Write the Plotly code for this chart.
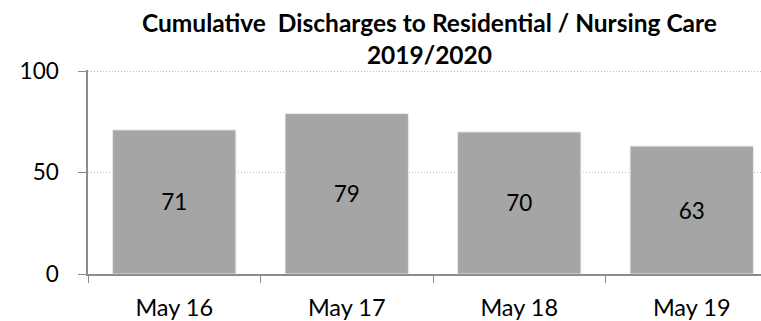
import plotly.graph_objects as go

categories = ["May 16", "May 17", "May 18", "May 19"]
discharges = [71, 79, 70, 63]
y_ticks = [0, 50, 100]
title_lines = ["Cumulative  Discharges to Residential / Nursing Care", "2019/2020"]

FONT = "Lato"
W, H = 761, 321
M_L, M_R, M_T, M_B = 88, 0, 70, 45
plot_h = H - M_T - M_B

fig = go.Figure(
    go.Bar(
        x=categories,
        y=discharges,
        text=[str(v) for v in discharges],
        textposition="inside",
        insidetextanchor="middle",
        textfont=dict(family=FONT, size=22.5, color="#000000"),
        marker=dict(color="#A5A5A5", line=dict(color="#E8E8E8", width=1)),
        width=0.715,
        hoverinfo="skip",
    )
)

# two-line bold heading, centred over the chart
fig.add_annotation(
    text="<b>" + "<br>".join(title_lines) + "</b>",
    xref="paper",
    yref="paper",
    x=(429 - M_L) / (W - M_L - M_R),
    y=1 + (M_T - 38.5) / plot_h,
    xanchor="center",
    yanchor="middle",
    align="center",
    showarrow=False,
    font=dict(family=FONT, size=24.5, color="#000000"),
)

fig.update_layout(
    width=W,
    height=H,
    margin=dict(l=M_L, r=M_R, t=M_T, b=M_B),
    paper_bgcolor="white",
    plot_bgcolor="white",
    showlegend=False,
    xaxis=dict(
        type="category",
        range=[-0.5, -0.5 + (W - M_L) / 172.5],
        showline=True,
        linecolor="#8C8C8C",
        linewidth=1.5,
        ticks="outside",
        tickson="boundaries",
        ticklen=7,
        tickcolor="#8C8C8C",
        ticklabelstandoff=12,
        tickfont=dict(family=FONT, size=23.5, color="#000000"),
        showgrid=False,
    ),
    yaxis=dict(
        range=[0, 100.5],
        tickvals=y_ticks,
        showline=True,
        linecolor="#8C8C8C",
        linewidth=1.5,
        ticks="outside",
        ticklen=8,
        tickcolor="#8C8C8C",
        ticklabelstandoff=15,
        tickfont=dict(family=FONT, size=22.5, color="#000000"),
        showgrid=True,
        gridcolor="#BFBFBF",
        griddash="1px,2px",
        gridwidth=1,
        zeroline=False,
    ),
)

fig.write_html("out.html")
